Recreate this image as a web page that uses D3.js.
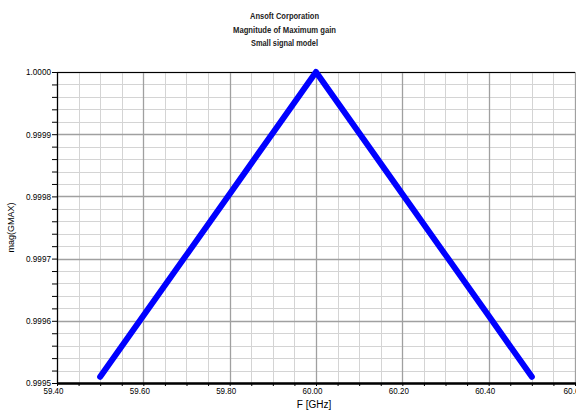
<!DOCTYPE html>
<html><head><meta charset="utf-8">
<script src="https://cdn.jsdelivr.net/npm/d3@7"></script>
<style>body{margin:0;background:#fff}svg{display:block}text{font-family:"Liberation Sans","Arial",sans-serif}</style>
</head><body><svg id="c" width="576" height="413"></svg>
<script>
const titleLines = ["Ansoft Corporation", "Magnitude of Maximum gain", "Small signal model"];
const freqGHz = [59.5, 59.6, 59.7, 59.8, 59.9, 60.0, 60.1, 60.2, 60.3, 60.4, 60.5];
const magGmax = [0.99951, 0.999608, 0.999706, 0.999804, 0.999902, 1.0000, 0.999902, 0.999804, 0.999706, 0.999608, 0.99951];
const xTicks = [59.4, 59.6, 59.8, 60.0, 60.2, 60.4, 60.6];
const xTickLabels = ["59.40", "59.60", "59.80", "60.00", "60.20", "60.40", "60.6"];
const yTicks = [0.9995, 0.9996, 0.9997, 0.9998, 0.9999, 1.0000];
const yTickLabels = ["0.9995", "0.9996", "0.9997", "0.9998", "0.9999", "1.0000"];

const svg = d3.select("#c");
const L = 57, R = 575, T = 72, B = 383;
const x = d3.scaleLinear().domain([59.4, 60.6]).range([L, R]);
const y = d3.scaleLinear().domain([0.9995, 1.0]).range([B, T]);

// minor grid
const xMinor = d3.range(0, 25).map(i => 59.4 + i * 0.05);
const yMinor = d3.range(0, 26).map(i => 0.9995 + i * 0.00002);
const g = svg.append("g");
g.selectAll(".xm").data(xMinor).join("line")
  .attr("x1", d => Math.round(x(d)) + 0.5).attr("x2", d => Math.round(x(d)) + 0.5)
  .attr("y1", T).attr("y2", B).attr("stroke", "#d4d4d4").attr("stroke-width", 1);
g.selectAll(".ym").data(yMinor).join("line")
  .attr("y1", d => Math.round(y(d)) + 0.5).attr("y2", d => Math.round(y(d)) + 0.5)
  .attr("x1", L).attr("x2", R).attr("stroke", "#d4d4d4").attr("stroke-width", 1);
// major grid
g.selectAll(".xM").data(xTicks).join("line")
  .attr("x1", d => Math.round(x(d)) + 0.5).attr("x2", d => Math.round(x(d)) + 0.5)
  .attr("y1", T).attr("y2", B).attr("stroke", "#a0a0a0").attr("stroke-width", 1.3);
g.selectAll(".yM").data(yTicks).join("line")
  .attr("y1", d => Math.round(y(d)) + 0.5).attr("y2", d => Math.round(y(d)) + 0.5)
  .attr("x1", L).attr("x2", R).attr("stroke", "#a0a0a0").attr("stroke-width", 1.3);

// frame
svg.append("line").attr("x1", L).attr("x2", R).attr("y1", T + 0.5).attr("y2", T + 0.5).attr("stroke", "#000").attr("stroke-width", 1.2);
svg.append("line").attr("x1", L + 0.5).attr("x2", L + 0.5).attr("y1", T).attr("y2", B).attr("stroke", "#000").attr("stroke-width", 1.2);

// y axis ticks
const yAxis = d3.axisLeft(y).tickValues(yMinor).tickSize(5).tickFormat(d => {
  const i = yTicks.findIndex(t => Math.abs(t - d) < 1e-9);
  return i >= 0 ? yTickLabels[i] : "";
});
const ya = svg.append("g").attr("transform", `translate(${L},0)`).call(yAxis);
ya.select(".domain").remove();
ya.selectAll("line").attr("stroke", "#000");
ya.selectAll("text").attr("font-size", 8.5).attr("fill", "#000").attr("x", -6).attr("dy", "0.35em")
  .filter(function () { return this.textContent !== ""; })
  .attr("textLength", 25).attr("lengthAdjust", "spacingAndGlyphs");

// x axis ticks
const xAxis = d3.axisBottom(x).tickValues(xMinor).tickSize(3).tickFormat(d => {
  const i = xTicks.findIndex(t => Math.abs(t - d) < 1e-9);
  return i >= 0 ? xTickLabels[i] : "";
});
const xa = svg.append("g").attr("transform", `translate(0,${B})`).call(xAxis);
xa.select(".domain").remove();
xa.selectAll("line").attr("stroke", "#000");
xa.selectAll("text").attr("font-size", 8.5).attr("fill", "#000").attr("y", 5).attr("dx", -4)
  .filter(function () { return this.textContent !== ""; })
  .attr("textLength", function () { return this.textContent.length === 5 ? 20 : 16; })
  .attr("lengthAdjust", "spacingAndGlyphs");
svg.append("line").attr("x1", L).attr("x2", 576).attr("y1", B + 0.5).attr("y2", B + 0.5).attr("stroke", "#000").attr("stroke-width", 2.6);

// data line
const line = d3.line().x((d, i) => x(freqGHz[i])).y(d => y(d));
svg.append("path").datum(magGmax).attr("d", line).attr("fill", "none")
  .attr("stroke", "#0000ff").attr("stroke-width", 6).attr("stroke-linecap", "round").attr("stroke-linejoin", "round");

// titles
const titleWidths = [69, 103, 67];
svg.selectAll(".tt").data(titleLines).join("text")
  .attr("x", 284.5).attr("y", (d, i) => 19 + i * 13.5).attr("text-anchor", "middle")
  .attr("font-size", 9.5).attr("font-weight", "bold").attr("fill", "#222")
  .attr("textLength", (d, i) => titleWidths[i]).attr("lengthAdjust", "spacingAndGlyphs").text(d => d);

svg.append("text").attr("x", 314).attr("y", 408).attr("text-anchor", "middle")
  .attr("font-size", 10).attr("fill", "#000").text("F [GHz]");
svg.append("text").attr("transform", "translate(14,227.5) rotate(-90)").attr("text-anchor", "middle")
  .attr("font-size", 9).attr("fill", "#000").attr("textLength", 50).attr("lengthAdjust", "spacing").text("mag(GMAX)");
</script></body></html>
